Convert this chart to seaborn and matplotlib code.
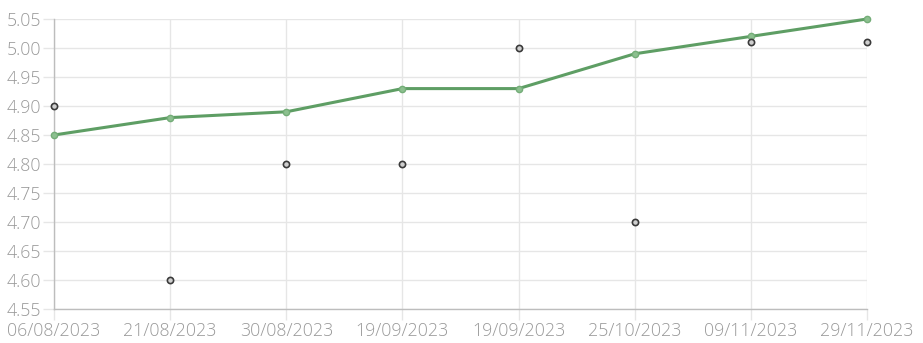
import matplotlib
matplotlib.use("Agg")
import matplotlib.pyplot as plt
import seaborn as sns
import pandas as pd

dates = ["06/08/2023", "21/08/2023", "30/08/2023", "19/09/2023",
         "19/09/2023", "25/10/2023", "09/11/2023", "29/11/2023"]
line_values = [4.85, 4.88, 4.89, 4.93, 4.93, 4.99, 5.02, 5.05]
point_values = [4.90, 4.60, 4.80, 4.80, 5.00, 4.70, 5.01, 5.01]
y_ticks = [4.55, 4.60, 4.65, 4.70, 4.75, 4.80, 4.85, 4.90, 4.95, 5.00, 5.05]

df = pd.DataFrame({"pos": range(len(dates)), "line": line_values, "pts": point_values})

sns.set_theme(style="white")
plt.rcParams['font.family'] = ['Open Sans', 'DejaVu Sans']

fig = plt.figure(figsize=(9.23, 3.43), dpi=100)
ax = fig.add_axes([54/923, 1 - 309/343, (867-54)/923, (309-19)/343])

sns.lineplot(data=df, x="pos", y="line", ax=ax, color="#5e9e64", linewidth=2.2,
             marker="o", markersize=4.5, markerfacecolor="#8cc08f",
             markeredgecolor="#74ad78", markeredgewidth=1, zorder=3, clip_on=False)
sns.scatterplot(data=df, x="pos", y="pts", ax=ax, s=20, color="#cfcfcf",
                edgecolor="#3a3a3a", linewidth=1.2, zorder=4, clip_on=False)

ax.set_xlim(0, len(dates) - 1)
ax.set_ylim(4.55, 5.05)
ax.set_xticks(range(len(dates)))
ax.set_xticklabels(dates)
ax.set_yticks(y_ticks)
ax.set_yticklabels([f"{v:.2f}" for v in y_ticks])
ax.set_xlabel("")
ax.set_ylabel("")

ax.grid(True, color="#e6e6e6", linewidth=1)
ax.tick_params(axis="both", colors="#e6e6e6", labelcolor="#999999",
               labelsize=12.8, length=8, width=1, pad=1, left=True, bottom=True)
for lab in ax.get_xticklabels() + ax.get_yticklabels():
    lab.set_fontweight("light")
for s in ["top", "right"]:
    ax.spines[s].set_visible(False)
for s in ["left", "bottom"]:
    ax.spines[s].set_color("#bdbdbd")
    ax.spines[s].set_linewidth(1)

fig.savefig("out.png", dpi=100)
